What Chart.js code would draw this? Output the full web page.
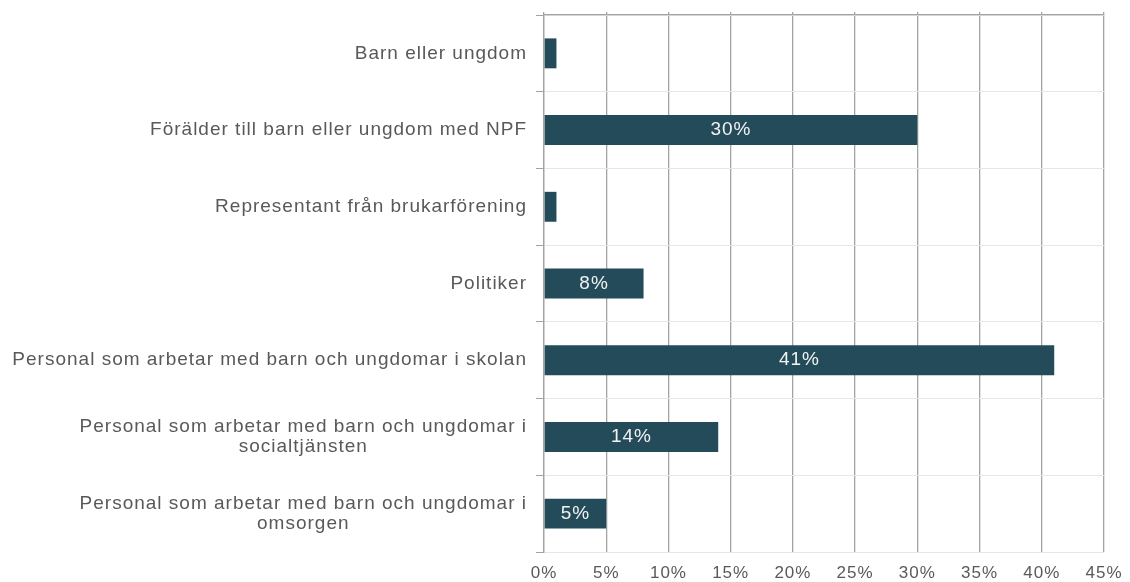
<!DOCTYPE html>
<html>
<head>
<meta charset="utf-8">
<script src="https://cdn.jsdelivr.net/npm/chart.js@4"></script>
<style>
  body { margin: 0; background: #fff; }
  #wrap { width: 1130px; height: 582px; position: relative; }
</style>
</head>
<body>
<div id="wrap"><canvas id="chart"></canvas></div>
<script>
const categories = [
  'Barn eller ungdom',
  'Förälder till barn eller ungdom med NPF',
  'Representant från brukarförening',
  'Politiker',
  'Personal som arbetar med barn och ungdomar i skolan',
  ['Personal som arbetar med barn och ungdomar i', 'socialtjänsten'],
  ['Personal som arbetar med barn och ungdomar i', 'omsorgen']
]
const values = [1, 30, 1, 8, 41, 14, 5]
const shownLabels = [null, '30%', null, '8%', '41%', '14%', '5%']
const xTicks = [0, 5, 10, 15, 20, 25, 30, 35, 40, 45]

const textColor = '#595959'
const gridDark = '#a3a3a3'
const gridLight = '#e6e6e6'
const fontFamily = '"Liberation Sans", Arial, sans-serif'

// the reference text is a little stretched, so space the letters out
const spacing = {
  id: 'spacing',
  beforeDraw(chart) { chart.ctx.letterSpacing = '1px' }
}

// y labels drawn by hand so wrapped lines centre on each other
const yLabels = {
  id: 'yLabels',
  afterDraw(chart) {
    const { ctx, scales } = chart
    const y = scales.y
    ctx.save()
    ctx.font = `19px ${fontFamily}`
    ctx.letterSpacing = '1px'
    ctx.fillStyle = textColor
    ctx.textAlign = 'center'
    ctx.textBaseline = 'middle'
    const right = y.right - 17
    categories.forEach((label, i) => {
      const lines = Array.isArray(label) ? label : [label]
      const w = Math.max(...lines.map(l => ctx.measureText(l).width))
      const cy = y.getPixelForValue(i)
      const lh = 20
      lines.forEach((l, j) => {
        ctx.fillText(l, right - w / 2, cy + (j - (lines.length - 1) / 2) * lh)
      })
    })
    ctx.restore()
  }
}

// value labels inside the bars
const barLabels = {
  id: 'barLabels',
  afterDatasetsDraw(chart) {
    const { ctx } = chart
    const meta = chart.getDatasetMeta(0)
    ctx.save()
    ctx.font = `19px ${fontFamily}`
    ctx.letterSpacing = '1px'
    ctx.fillStyle = '#f2f2f2'
    ctx.textAlign = 'center'
    ctx.textBaseline = 'middle'
    meta.data.forEach((bar, i) => {
      if (!shownLabels[i]) return
      ctx.fillText(shownLabels[i], (bar.x + bar.base) / 2, bar.y)
    })
    ctx.restore()
  }
}

new Chart(document.getElementById('chart'), {
  type: 'bar',
  data: {
    labels: categories,
    datasets: [{
      data: values,
      backgroundColor: '#234b59',
      barPercentage: 0.39,
      categoryPercentage: 1
    }]
  },
  options: {
    indexAxis: 'y',
    responsive: true,
    maintainAspectRatio: false,
    animation: false,
    layout: { padding: { left: 0, right: 26, top: 0, bottom: 0 } },
    plugins: { legend: { display: false }, tooltip: { enabled: false } },
    scales: {
      x: {
        position: 'bottom',
        min: 0,
        max: 45,
        afterBuildTicks: s => { s.ticks = xTicks.map(v => ({ value: v })) },
        ticks: {
          callback: v => v + '%',
          color: textColor,
          font: { family: fontFamily, size: 17 },
          padding: 11,
          maxRotation: 0
        },
        grid: { color: gridDark, lineWidth: 1.3, drawTicks: false },
        border: { color: gridLight },
        afterFit: s => { s.height = 30; s.paddingLeft = 0; s.paddingRight = 0 }
      },
      x2: {
        position: 'top',
        min: 0,
        max: 45,
        afterBuildTicks: s => { s.ticks = xTicks.map(v => ({ value: v })) },
        ticks: { display: false },
        grid: { drawOnChartArea: false, tickLength: 3, color: gridDark, lineWidth: 1.3 },
        border: { color: gridDark, width: 1.3 },
        afterFit: s => { s.height = 15; s.paddingLeft = 0; s.paddingRight = 0 }
      },
      y: {
        ticks: { display: false },
        grid: { color: gridLight, tickColor: gridDark, tickLength: 8, offset: true },
        border: { color: gridDark, width: 1.3 },
        afterFit: s => { s.width = 544 }
      }
    }
  },
  plugins: [spacing, yLabels, barLabels]
})
</script>
</body>
</html>
